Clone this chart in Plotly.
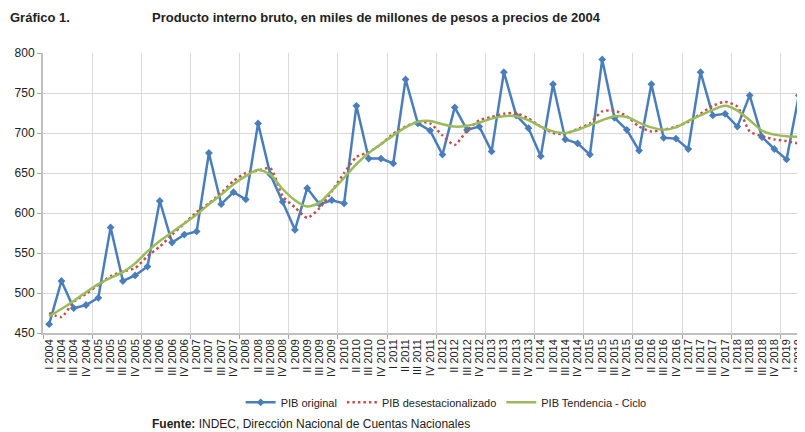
import plotly.graph_objects as go

years = list(range(2004, 2020))
roman = ["I", "II", "III", "IV"]
quarters = [f"{r} {y}" for y in years for r in roman][:63]  # I 2004 .. III 2019

pib_original = [461, 515, 481, 485, 494, 582, 515, 522, 533, 615,
                563, 573, 577, 675, 611, 626, 617, 712, 648, 614,
                579, 631, 611, 616, 612, 734, 668, 668, 662, 767,
                712, 703, 673, 732, 704, 708, 677, 776, 722, 706,
                671, 761, 692, 687, 673, 792, 719, 704, 678, 761,
                694, 693, 680, 776, 722, 724, 708, 747, 695, 680,
                667, 747, 670]

pib_desest = [475, 470, 489, 499, 510, 521, 527, 531, 546, 558,
              573, 587, 601, 612, 625, 640, 650, 653, 656, 621,
              607, 594, 606, 627, 650, 670, 676, 686, 699, 708,
              714, 712, 697, 685, 703, 716, 720, 724, 725, 718,
              708, 700, 699, 705, 712, 727, 728, 721, 708, 702,
              704, 708, 714, 724, 734, 739, 733, 702, 696, 692,
              690, 687, 689]

pib_tendencia = [471, 480, 490, 501, 511, 519, 526, 537, 552, 565,
                 576, 587, 598, 611, 623, 636, 646, 654, 648, 630,
                 616, 608, 613, 628, 644, 661, 675, 686, 697, 707,
                 714, 715, 711, 708, 709, 713, 718, 721, 721, 716,
                 708, 702, 700, 704, 710, 716, 721, 720, 713, 707,
                 704, 707, 715, 722, 729, 734, 728, 716, 703, 698,
                 696, 695, 693]

n_labels = 62  # labels shown: I 2004 .. II 2019
xi = list(range(len(quarters)))

blue = "#4A7EBB"
red = "#C0504D"
green = "#9BBB59"

fig = go.Figure()
fig.add_trace(go.Scatter(
    x=xi, y=pib_original, name="PIB original", mode="lines+markers",
    line=dict(color=blue, width=2.5),
    marker=dict(symbol="diamond", size=6, color=blue),
))
fig.add_trace(go.Scatter(
    x=xi, y=pib_desest, name="PIB desestacionalizado", mode="lines",
    line=dict(color=red, width=2.5, dash="2.5px,3px", shape="spline", smoothing=0.6),
))
fig.add_trace(go.Scatter(
    x=xi, y=pib_tendencia, name="PIB Tendencia - Ciclo", mode="lines",
    line=dict(color=green, width=2.5, shape="spline", smoothing=0.7),
))

# page body has an 8px margin: work in window pixels, then offset
OFF = 8
L, R, T, B = 42.7, 805, 52.7, 332.7
W, H = 805 - OFF, 432 - OFF
pw, ph = R - L, B - T

def px_x(px):
    return (px - L) / pw

def px_y(py):
    return (B - py) / ph

fig.update_layout(
    width=W, height=H,
    margin=dict(l=L - OFF, r=0, t=T - OFF, b=H - (B - OFF), pad=0, autoexpand=False),
    paper_bgcolor="white", plot_bgcolor="white",
    font=dict(family="Liberation Sans, Arial, sans-serif", size=12, color="#222"),
    showlegend=True,
    legend=dict(orientation="h", x=px_x(446), xanchor="center",
                y=px_y(402), yanchor="middle",
                font=dict(size=11, color="#222"), itemwidth=30,
                tracegroupgap=0),
    xaxis=dict(
        range=[-0.5, n_labels - 0.5], automargin=False,
        tickmode="array", tickvals=xi[:n_labels], ticktext=quarters[:n_labels],
        tickangle=-90, tickfont=dict(size=11, color="#222"),
        showgrid=False, ticks="", zeroline=False,
        showline=True, linecolor="#BFBFBF", linewidth=1.5,
        minor=dict(tickmode="array",
                   tickvals=[k - 0.5 for k in range(0, n_labels + 1, 4)],
                   showgrid=True, gridcolor="#D9D9D9", gridwidth=1,
                   ticks="outside", ticklen=4, tickcolor="#A6A6A6"),
    ),
    yaxis=dict(
        range=[450, 800], dtick=50, tick0=450, automargin=False,
        showgrid=True, gridcolor="#D9D9D9", gridwidth=1,
        zeroline=False, showline=True, linecolor="#BFBFBF", linewidth=2,
        ticks="outside", ticklen=4, tickcolor="#A6A6A6",
        tickfont=dict(size=12, color="#222"),
    ),
    annotations=[
        dict(text="<b>Gráfico 1.</b>", xref="paper", yref="paper",
             x=px_x(8), y=px_y(17), xanchor="left", yanchor="middle",
             showarrow=False,
             font=dict(family="Liberation Sans Narrow, Arial Narrow, Liberation Sans, sans-serif", size=13, color="#222")),
        dict(text="<b>Producto interno bruto, en miles de millones de pesos a precios de 2004</b>",
             xref="paper", yref="paper",
             x=px_x(150), y=px_y(17), xanchor="left", yanchor="middle",
             showarrow=False,
             font=dict(family="Liberation Sans Narrow, Arial Narrow, Liberation Sans, sans-serif", size=13, color="#222")),
        dict(text="<b>Fuente:</b> INDEC, Dirección Nacional de Cuentas Nacionales",
             xref="paper", yref="paper",
             x=px_x(150), y=px_y(424), xanchor="left", yanchor="middle",
             showarrow=False, font=dict(size=12, color="#222")),
    ],
)

fig.write_html("out.html")
